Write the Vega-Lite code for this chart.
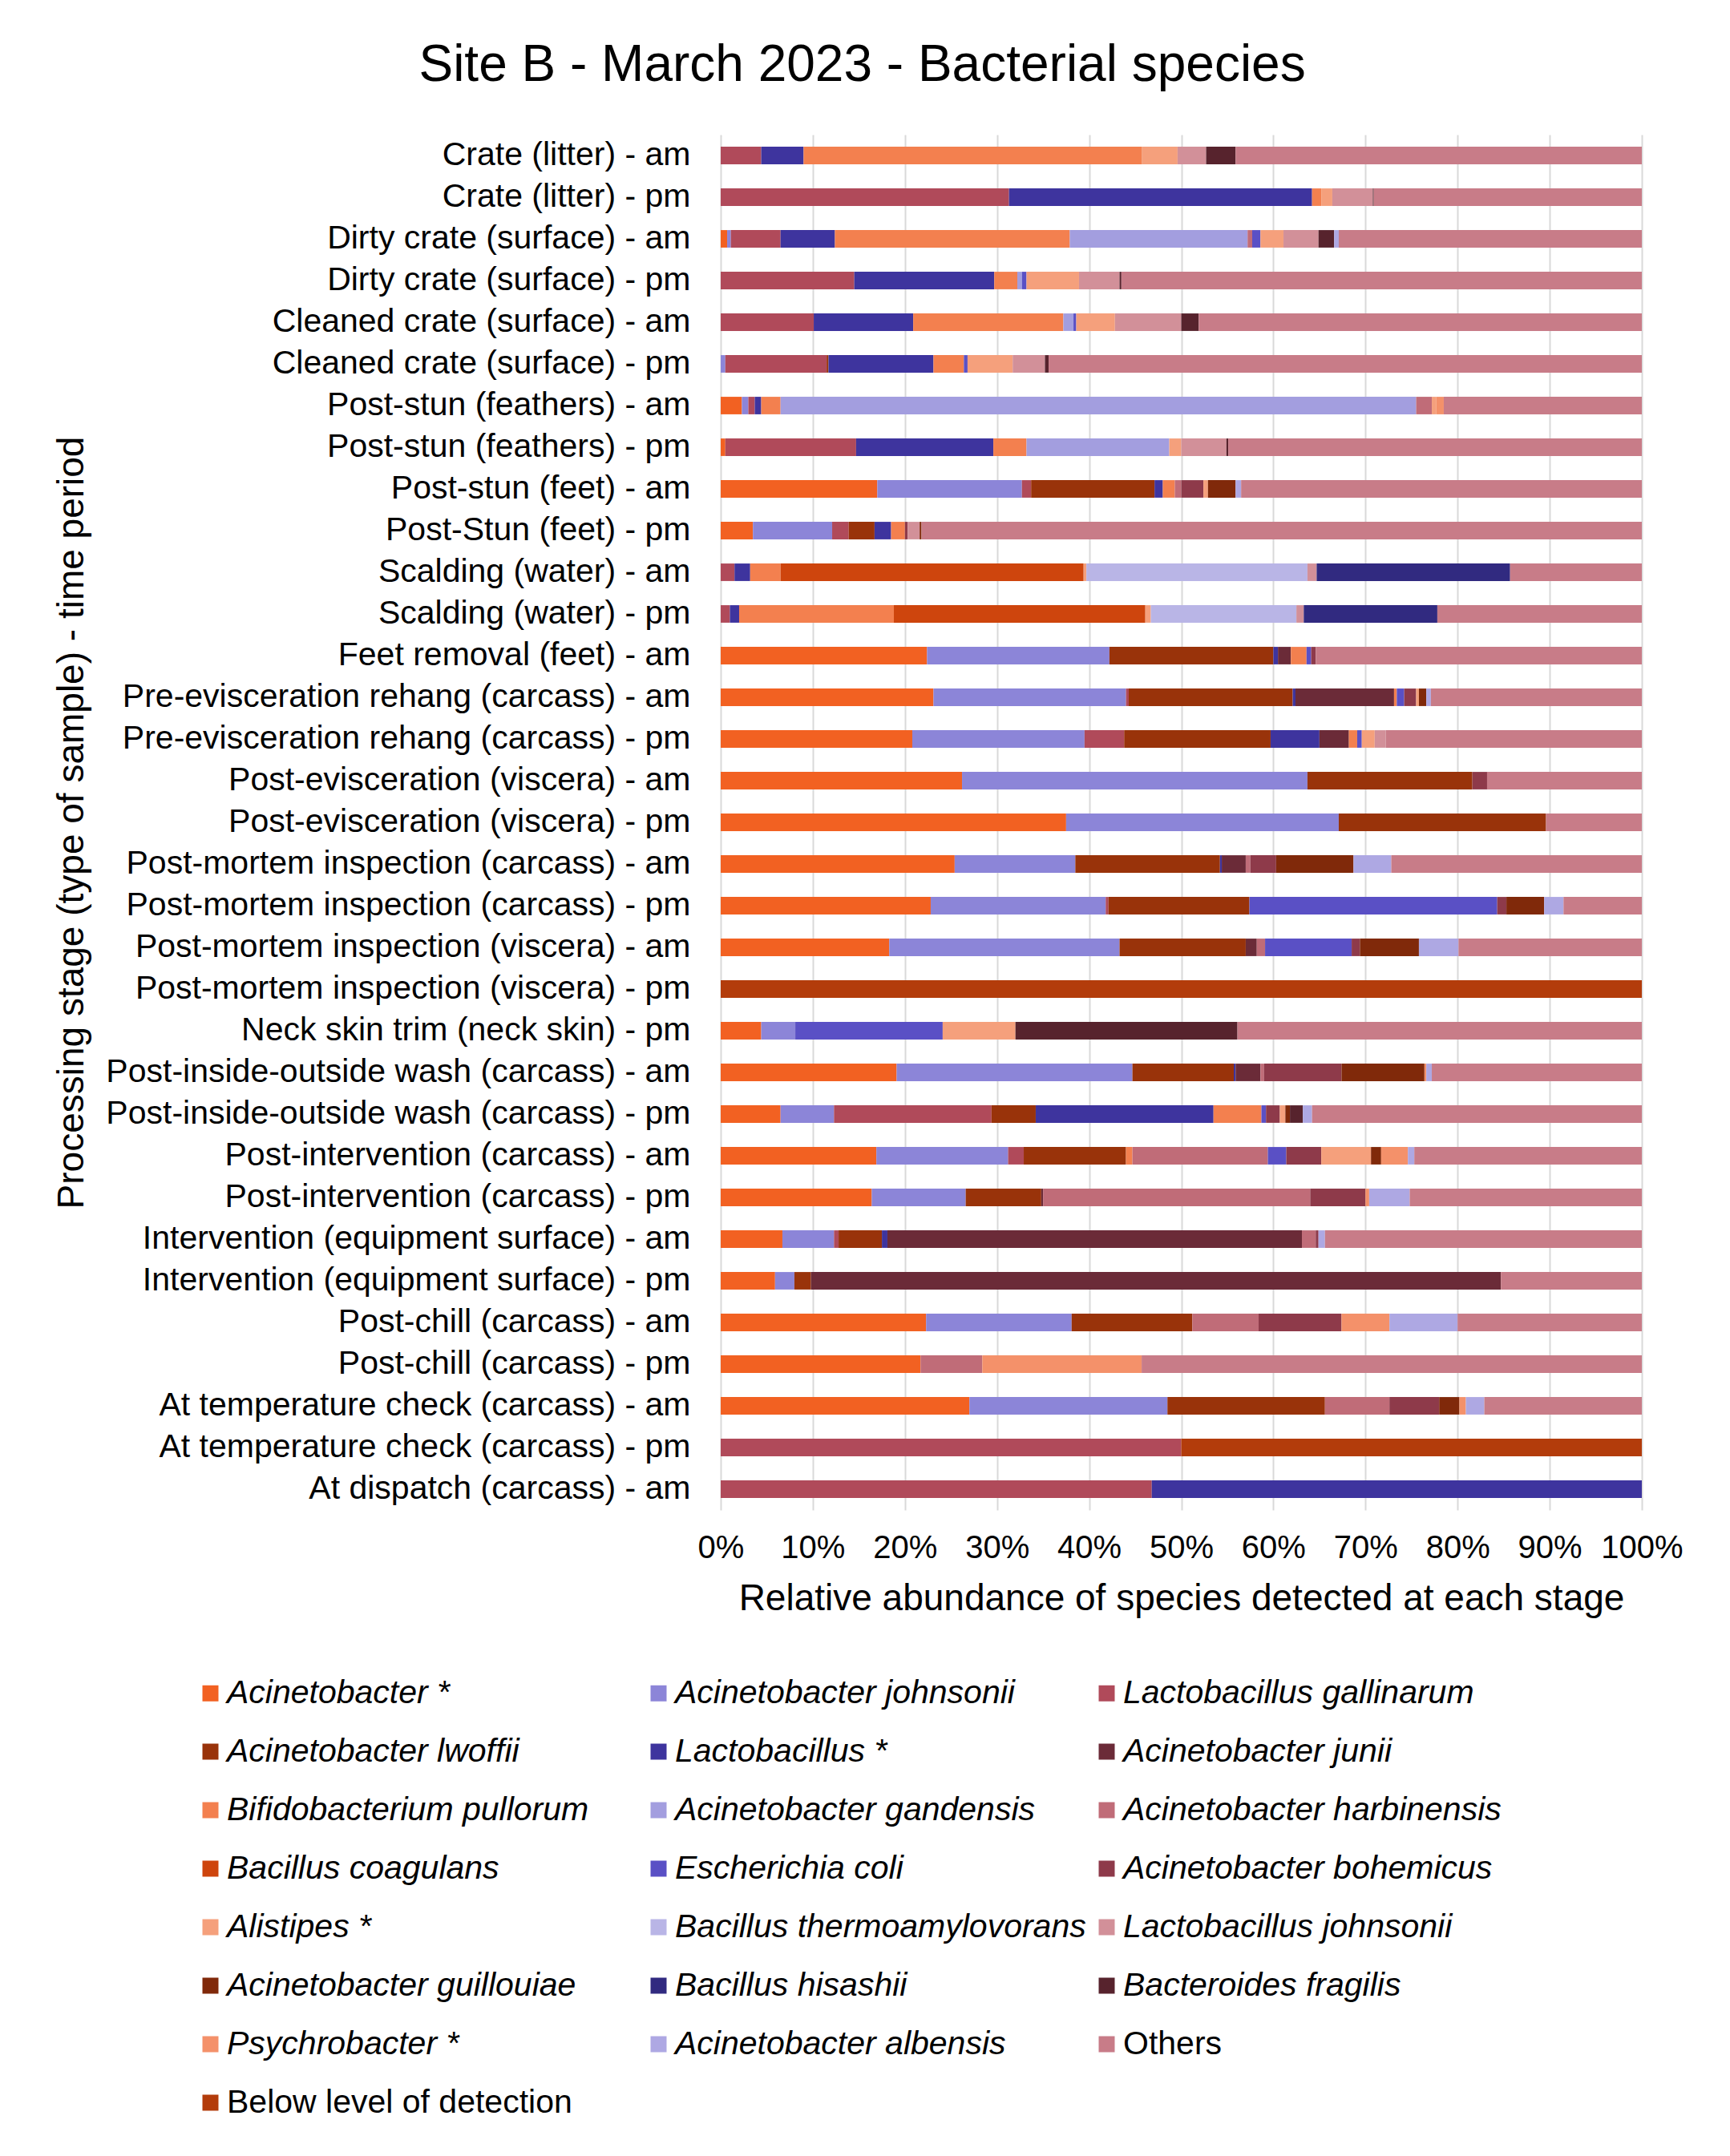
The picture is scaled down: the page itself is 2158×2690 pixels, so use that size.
{
  "$schema": "https://vega.github.io/schema/vega-lite/v6.json",
  "autosize": {"type": "none"},
  "padding": {"left": 899, "top": 168, "right": 110, "bottom": 806},
  "width": 1149,
  "height": 1716,
  "background": "white",
  "config": {
    "font": "Liberation Sans",
    "view": {"stroke": null}
  },
  "title": {
    "text": "Site B - March 2023 - Bacterial species",
    "fontSize": 64,
    "fontWeight": "normal",
    "color": "#000000",
    "font": "Liberation Sans",
    "anchor": "middle",
    "frame": "bounds",
    "dx": -7,
    "offset": 54
  },
  "datasets": {
    "rank": [
      {"sp": "Acinetobacter *", "r": 1},
      {"sp": "Acinetobacter johnsonii", "r": 2},
      {"sp": "Lactobacillus gallinarum", "r": 3},
      {"sp": "Acinetobacter lwoffii", "r": 4},
      {"sp": "Lactobacillus *", "r": 5},
      {"sp": "Acinetobacter junii", "r": 6},
      {"sp": "Bifidobacterium pullorum", "r": 7},
      {"sp": "Acinetobacter gandensis", "r": 8},
      {"sp": "Acinetobacter harbinensis", "r": 9},
      {"sp": "Bacillus coagulans", "r": 10},
      {"sp": "Escherichia coli", "r": 11},
      {"sp": "Acinetobacter bohemicus", "r": 12},
      {"sp": "Alistipes *", "r": 13},
      {"sp": "Bacillus thermoamylovorans", "r": 14},
      {"sp": "Lactobacillus johnsonii", "r": 15},
      {"sp": "Acinetobacter guillouiae", "r": 16},
      {"sp": "Bacillus hisashii", "r": 17},
      {"sp": "Bacteroides fragilis", "r": 18},
      {"sp": "Psychrobacter *", "r": 19},
      {"sp": "Acinetobacter albensis", "r": 20},
      {"sp": "Others", "r": 21},
      {"sp": "Below level of detection", "r": 22}
    ]
  },
  "data": {
    "values": [
      {"s": "Crate (litter) - am", "sp": "Lactobacillus gallinarum", "v": 4.4},
      {"s": "Crate (litter) - am", "sp": "Lactobacillus *", "v": 4.6},
      {"s": "Crate (litter) - am", "sp": "Bifidobacterium pullorum", "v": 36.7},
      {"s": "Crate (litter) - am", "sp": "Alistipes *", "v": 3.9},
      {"s": "Crate (litter) - am", "sp": "Lactobacillus johnsonii", "v": 3.1},
      {"s": "Crate (litter) - am", "sp": "Bacteroides fragilis", "v": 3.2},
      {"s": "Crate (litter) - am", "sp": "Others", "v": 44.1},

      {"s": "Crate (litter) - pm", "sp": "Lactobacillus gallinarum", "v": 31.3},
      {"s": "Crate (litter) - pm", "sp": "Lactobacillus *", "v": 32.9},
      {"s": "Crate (litter) - pm", "sp": "Bifidobacterium pullorum", "v": 1.0},
      {"s": "Crate (litter) - pm", "sp": "Alistipes *", "v": 1.2},
      {"s": "Crate (litter) - pm", "sp": "Lactobacillus johnsonii", "v": 4.4},
      {"s": "Crate (litter) - pm", "sp": "Bacteroides fragilis", "v": 0.1},
      {"s": "Crate (litter) - pm", "sp": "Others", "v": 29.1},

      {"s": "Dirty crate (surface) - am", "sp": "Acinetobacter *", "v": 0.7},
      {"s": "Dirty crate (surface) - am", "sp": "Acinetobacter johnsonii", "v": 0.4},
      {"s": "Dirty crate (surface) - am", "sp": "Lactobacillus gallinarum", "v": 5.4},
      {"s": "Dirty crate (surface) - am", "sp": "Lactobacillus *", "v": 5.9},
      {"s": "Dirty crate (surface) - am", "sp": "Bifidobacterium pullorum", "v": 25.5},
      {"s": "Dirty crate (surface) - am", "sp": "Acinetobacter gandensis", "v": 19.3},
      {"s": "Dirty crate (surface) - am", "sp": "Acinetobacter harbinensis", "v": 0.5},
      {"s": "Dirty crate (surface) - am", "sp": "Escherichia coli", "v": 0.9},
      {"s": "Dirty crate (surface) - am", "sp": "Alistipes *", "v": 2.5},
      {"s": "Dirty crate (surface) - am", "sp": "Lactobacillus johnsonii", "v": 3.8},
      {"s": "Dirty crate (surface) - am", "sp": "Bacteroides fragilis", "v": 1.7},
      {"s": "Dirty crate (surface) - am", "sp": "Acinetobacter albensis", "v": 0.5},
      {"s": "Dirty crate (surface) - am", "sp": "Others", "v": 32.9},

      {"s": "Dirty crate (surface) - pm", "sp": "Lactobacillus gallinarum", "v": 14.5},
      {"s": "Dirty crate (surface) - pm", "sp": "Lactobacillus *", "v": 15.2},
      {"s": "Dirty crate (surface) - pm", "sp": "Bifidobacterium pullorum", "v": 2.5},
      {"s": "Dirty crate (surface) - pm", "sp": "Acinetobacter gandensis", "v": 0.5},
      {"s": "Dirty crate (surface) - pm", "sp": "Escherichia coli", "v": 0.5},
      {"s": "Dirty crate (surface) - pm", "sp": "Alistipes *", "v": 5.7},
      {"s": "Dirty crate (surface) - pm", "sp": "Lactobacillus johnsonii", "v": 4.4},
      {"s": "Dirty crate (surface) - pm", "sp": "Bacteroides fragilis", "v": 0.2},
      {"s": "Dirty crate (surface) - pm", "sp": "Others", "v": 56.5},

      {"s": "Cleaned crate (surface) - am", "sp": "Lactobacillus gallinarum", "v": 10.1},
      {"s": "Cleaned crate (surface) - am", "sp": "Lactobacillus *", "v": 10.8},
      {"s": "Cleaned crate (surface) - am", "sp": "Bifidobacterium pullorum", "v": 16.3},
      {"s": "Cleaned crate (surface) - am", "sp": "Acinetobacter gandensis", "v": 1.1},
      {"s": "Cleaned crate (surface) - am", "sp": "Escherichia coli", "v": 0.3},
      {"s": "Cleaned crate (surface) - am", "sp": "Alistipes *", "v": 4.2},
      {"s": "Cleaned crate (surface) - am", "sp": "Lactobacillus johnsonii", "v": 7.2},
      {"s": "Cleaned crate (surface) - am", "sp": "Bacteroides fragilis", "v": 1.9},
      {"s": "Cleaned crate (surface) - am", "sp": "Others", "v": 48.1},

      {"s": "Cleaned crate (surface) - pm", "sp": "Acinetobacter johnsonii", "v": 0.5},
      {"s": "Cleaned crate (surface) - pm", "sp": "Lactobacillus gallinarum", "v": 11.0},
      {"s": "Cleaned crate (surface) - pm", "sp": "Acinetobacter lwoffii", "v": 0.2},
      {"s": "Cleaned crate (surface) - pm", "sp": "Lactobacillus *", "v": 11.4},
      {"s": "Cleaned crate (surface) - pm", "sp": "Bifidobacterium pullorum", "v": 3.3},
      {"s": "Cleaned crate (surface) - pm", "sp": "Escherichia coli", "v": 0.4},
      {"s": "Cleaned crate (surface) - pm", "sp": "Alistipes *", "v": 4.9},
      {"s": "Cleaned crate (surface) - pm", "sp": "Lactobacillus johnsonii", "v": 3.5},
      {"s": "Cleaned crate (surface) - pm", "sp": "Bacteroides fragilis", "v": 0.4},
      {"s": "Cleaned crate (surface) - pm", "sp": "Others", "v": 64.4},

      {"s": "Post-stun (feathers) - am", "sp": "Acinetobacter *", "v": 2.3},
      {"s": "Post-stun (feathers) - am", "sp": "Acinetobacter johnsonii", "v": 0.7},
      {"s": "Post-stun (feathers) - am", "sp": "Lactobacillus gallinarum", "v": 0.7},
      {"s": "Post-stun (feathers) - am", "sp": "Lactobacillus *", "v": 0.7},
      {"s": "Post-stun (feathers) - am", "sp": "Bifidobacterium pullorum", "v": 2.1},
      {"s": "Post-stun (feathers) - am", "sp": "Acinetobacter gandensis", "v": 69.0},
      {"s": "Post-stun (feathers) - am", "sp": "Acinetobacter harbinensis", "v": 1.7},
      {"s": "Post-stun (feathers) - am", "sp": "Alistipes *", "v": 0.5},
      {"s": "Post-stun (feathers) - am", "sp": "Psychrobacter *", "v": 0.8},
      {"s": "Post-stun (feathers) - am", "sp": "Others", "v": 21.5},

      {"s": "Post-stun (feathers) - pm", "sp": "Acinetobacter *", "v": 0.5},
      {"s": "Post-stun (feathers) - pm", "sp": "Lactobacillus gallinarum", "v": 14.2},
      {"s": "Post-stun (feathers) - pm", "sp": "Lactobacillus *", "v": 14.9},
      {"s": "Post-stun (feathers) - pm", "sp": "Bifidobacterium pullorum", "v": 3.6},
      {"s": "Post-stun (feathers) - pm", "sp": "Acinetobacter gandensis", "v": 15.5},
      {"s": "Post-stun (feathers) - pm", "sp": "Alistipes *", "v": 1.3},
      {"s": "Post-stun (feathers) - pm", "sp": "Lactobacillus johnsonii", "v": 4.9},
      {"s": "Post-stun (feathers) - pm", "sp": "Bacteroides fragilis", "v": 0.2},
      {"s": "Post-stun (feathers) - pm", "sp": "Others", "v": 44.9},

      {"s": "Post-stun (feet) - am", "sp": "Acinetobacter *", "v": 17.0},
      {"s": "Post-stun (feet) - am", "sp": "Acinetobacter johnsonii", "v": 15.7},
      {"s": "Post-stun (feet) - am", "sp": "Lactobacillus gallinarum", "v": 1.0},
      {"s": "Post-stun (feet) - am", "sp": "Acinetobacter lwoffii", "v": 13.4},
      {"s": "Post-stun (feet) - am", "sp": "Lactobacillus *", "v": 0.9},
      {"s": "Post-stun (feet) - am", "sp": "Bifidobacterium pullorum", "v": 1.3},
      {"s": "Post-stun (feet) - am", "sp": "Acinetobacter harbinensis", "v": 0.7},
      {"s": "Post-stun (feet) - am", "sp": "Acinetobacter bohemicus", "v": 2.4},
      {"s": "Post-stun (feet) - am", "sp": "Alistipes *", "v": 0.5},
      {"s": "Post-stun (feet) - am", "sp": "Acinetobacter guillouiae", "v": 3.0},
      {"s": "Post-stun (feet) - am", "sp": "Acinetobacter albensis", "v": 0.6},
      {"s": "Post-stun (feet) - am", "sp": "Others", "v": 43.5},

      {"s": "Post-Stun (feet) - pm", "sp": "Acinetobacter *", "v": 3.5},
      {"s": "Post-Stun (feet) - pm", "sp": "Acinetobacter johnsonii", "v": 8.6},
      {"s": "Post-Stun (feet) - pm", "sp": "Lactobacillus gallinarum", "v": 1.8},
      {"s": "Post-Stun (feet) - pm", "sp": "Acinetobacter lwoffii", "v": 2.8},
      {"s": "Post-Stun (feet) - pm", "sp": "Lactobacillus *", "v": 1.8},
      {"s": "Post-Stun (feet) - pm", "sp": "Bifidobacterium pullorum", "v": 1.5},
      {"s": "Post-Stun (feet) - pm", "sp": "Acinetobacter bohemicus", "v": 0.3},
      {"s": "Post-Stun (feet) - pm", "sp": "Lactobacillus johnsonii", "v": 1.3},
      {"s": "Post-Stun (feet) - pm", "sp": "Acinetobacter guillouiae", "v": 0.2},
      {"s": "Post-Stun (feet) - pm", "sp": "Others", "v": 78.2},

      {"s": "Scalding (water) - am", "sp": "Lactobacillus gallinarum", "v": 1.5},
      {"s": "Scalding (water) - am", "sp": "Lactobacillus *", "v": 1.7},
      {"s": "Scalding (water) - am", "sp": "Bifidobacterium pullorum", "v": 3.3},
      {"s": "Scalding (water) - am", "sp": "Bacillus coagulans", "v": 32.9},
      {"s": "Scalding (water) - am", "sp": "Alistipes *", "v": 0.3},
      {"s": "Scalding (water) - am", "sp": "Bacillus thermoamylovorans", "v": 24.0},
      {"s": "Scalding (water) - am", "sp": "Lactobacillus johnsonii", "v": 1.0},
      {"s": "Scalding (water) - am", "sp": "Bacillus hisashii", "v": 21.0},
      {"s": "Scalding (water) - am", "sp": "Others", "v": 14.3},

      {"s": "Scalding (water) - pm", "sp": "Lactobacillus gallinarum", "v": 1.0},
      {"s": "Scalding (water) - pm", "sp": "Lactobacillus *", "v": 1.0},
      {"s": "Scalding (water) - pm", "sp": "Bifidobacterium pullorum", "v": 16.8},
      {"s": "Scalding (water) - pm", "sp": "Bacillus coagulans", "v": 27.3},
      {"s": "Scalding (water) - pm", "sp": "Alistipes *", "v": 0.6},
      {"s": "Scalding (water) - pm", "sp": "Bacillus thermoamylovorans", "v": 15.8},
      {"s": "Scalding (water) - pm", "sp": "Lactobacillus johnsonii", "v": 0.8},
      {"s": "Scalding (water) - pm", "sp": "Bacillus hisashii", "v": 14.5},
      {"s": "Scalding (water) - pm", "sp": "Others", "v": 22.2},

      {"s": "Feet removal (feet) - am", "sp": "Acinetobacter *", "v": 22.4},
      {"s": "Feet removal (feet) - am", "sp": "Acinetobacter johnsonii", "v": 19.8},
      {"s": "Feet removal (feet) - am", "sp": "Acinetobacter lwoffii", "v": 17.8},
      {"s": "Feet removal (feet) - am", "sp": "Lactobacillus *", "v": 0.5},
      {"s": "Feet removal (feet) - am", "sp": "Acinetobacter junii", "v": 1.4},
      {"s": "Feet removal (feet) - am", "sp": "Bifidobacterium pullorum", "v": 1.7},
      {"s": "Feet removal (feet) - am", "sp": "Escherichia coli", "v": 0.5},
      {"s": "Feet removal (feet) - am", "sp": "Acinetobacter bohemicus", "v": 0.5},
      {"s": "Feet removal (feet) - am", "sp": "Others", "v": 35.4},

      {"s": "Pre-evisceration rehang (carcass) - am", "sp": "Acinetobacter *", "v": 23.1},
      {"s": "Pre-evisceration rehang (carcass) - am", "sp": "Acinetobacter johnsonii", "v": 20.9},
      {"s": "Pre-evisceration rehang (carcass) - am", "sp": "Lactobacillus gallinarum", "v": 0.3},
      {"s": "Pre-evisceration rehang (carcass) - am", "sp": "Acinetobacter lwoffii", "v": 17.8},
      {"s": "Pre-evisceration rehang (carcass) - am", "sp": "Lactobacillus *", "v": 0.3},
      {"s": "Pre-evisceration rehang (carcass) - am", "sp": "Acinetobacter junii", "v": 10.7},
      {"s": "Pre-evisceration rehang (carcass) - am", "sp": "Bifidobacterium pullorum", "v": 0.3},
      {"s": "Pre-evisceration rehang (carcass) - am", "sp": "Escherichia coli", "v": 0.8},
      {"s": "Pre-evisceration rehang (carcass) - am", "sp": "Acinetobacter bohemicus", "v": 1.3},
      {"s": "Pre-evisceration rehang (carcass) - am", "sp": "Alistipes *", "v": 0.3},
      {"s": "Pre-evisceration rehang (carcass) - am", "sp": "Acinetobacter guillouiae", "v": 0.8},
      {"s": "Pre-evisceration rehang (carcass) - am", "sp": "Acinetobacter albensis", "v": 0.5},
      {"s": "Pre-evisceration rehang (carcass) - am", "sp": "Others", "v": 22.9},

      {"s": "Pre-evisceration rehang (carcass) - pm", "sp": "Acinetobacter *", "v": 20.8},
      {"s": "Pre-evisceration rehang (carcass) - pm", "sp": "Acinetobacter johnsonii", "v": 18.7},
      {"s": "Pre-evisceration rehang (carcass) - pm", "sp": "Lactobacillus gallinarum", "v": 4.3},
      {"s": "Pre-evisceration rehang (carcass) - pm", "sp": "Acinetobacter lwoffii", "v": 15.9},
      {"s": "Pre-evisceration rehang (carcass) - pm", "sp": "Lactobacillus *", "v": 5.3},
      {"s": "Pre-evisceration rehang (carcass) - pm", "sp": "Acinetobacter junii", "v": 3.2},
      {"s": "Pre-evisceration rehang (carcass) - pm", "sp": "Bifidobacterium pullorum", "v": 0.9},
      {"s": "Pre-evisceration rehang (carcass) - pm", "sp": "Escherichia coli", "v": 0.5},
      {"s": "Pre-evisceration rehang (carcass) - pm", "sp": "Alistipes *", "v": 1.4},
      {"s": "Pre-evisceration rehang (carcass) - pm", "sp": "Lactobacillus johnsonii", "v": 1.2},
      {"s": "Pre-evisceration rehang (carcass) - pm", "sp": "Others", "v": 27.8},

      {"s": "Post-evisceration (viscera) - am", "sp": "Acinetobacter *", "v": 26.2},
      {"s": "Post-evisceration (viscera) - am", "sp": "Acinetobacter johnsonii", "v": 37.5},
      {"s": "Post-evisceration (viscera) - am", "sp": "Acinetobacter lwoffii", "v": 17.9},
      {"s": "Post-evisceration (viscera) - am", "sp": "Acinetobacter bohemicus", "v": 1.6},
      {"s": "Post-evisceration (viscera) - am", "sp": "Others", "v": 16.8},

      {"s": "Post-evisceration (viscera) - pm", "sp": "Acinetobacter *", "v": 37.5},
      {"s": "Post-evisceration (viscera) - pm", "sp": "Acinetobacter johnsonii", "v": 29.6},
      {"s": "Post-evisceration (viscera) - pm", "sp": "Acinetobacter lwoffii", "v": 22.5},
      {"s": "Post-evisceration (viscera) - pm", "sp": "Others", "v": 10.4},

      {"s": "Post-mortem inspection (carcass) - am", "sp": "Acinetobacter *", "v": 25.4},
      {"s": "Post-mortem inspection (carcass) - am", "sp": "Acinetobacter johnsonii", "v": 13.1},
      {"s": "Post-mortem inspection (carcass) - am", "sp": "Acinetobacter lwoffii", "v": 15.7},
      {"s": "Post-mortem inspection (carcass) - am", "sp": "Lactobacillus *", "v": 0.2},
      {"s": "Post-mortem inspection (carcass) - am", "sp": "Acinetobacter junii", "v": 2.6},
      {"s": "Post-mortem inspection (carcass) - am", "sp": "Acinetobacter harbinensis", "v": 0.5},
      {"s": "Post-mortem inspection (carcass) - am", "sp": "Acinetobacter bohemicus", "v": 2.8},
      {"s": "Post-mortem inspection (carcass) - am", "sp": "Acinetobacter guillouiae", "v": 8.4},
      {"s": "Post-mortem inspection (carcass) - am", "sp": "Acinetobacter albensis", "v": 4.1},
      {"s": "Post-mortem inspection (carcass) - am", "sp": "Others", "v": 27.2},

      {"s": "Post-mortem inspection (carcass) - pm", "sp": "Acinetobacter *", "v": 22.8},
      {"s": "Post-mortem inspection (carcass) - pm", "sp": "Acinetobacter johnsonii", "v": 19.0},
      {"s": "Post-mortem inspection (carcass) - pm", "sp": "Lactobacillus gallinarum", "v": 0.3},
      {"s": "Post-mortem inspection (carcass) - pm", "sp": "Acinetobacter lwoffii", "v": 15.3},
      {"s": "Post-mortem inspection (carcass) - pm", "sp": "Escherichia coli", "v": 26.9},
      {"s": "Post-mortem inspection (carcass) - pm", "sp": "Acinetobacter bohemicus", "v": 1.0},
      {"s": "Post-mortem inspection (carcass) - pm", "sp": "Acinetobacter guillouiae", "v": 4.1},
      {"s": "Post-mortem inspection (carcass) - pm", "sp": "Acinetobacter albensis", "v": 2.1},
      {"s": "Post-mortem inspection (carcass) - pm", "sp": "Others", "v": 8.5},

      {"s": "Post-mortem inspection (viscera) - am", "sp": "Acinetobacter *", "v": 18.3},
      {"s": "Post-mortem inspection (viscera) - am", "sp": "Acinetobacter johnsonii", "v": 25.0},
      {"s": "Post-mortem inspection (viscera) - am", "sp": "Acinetobacter lwoffii", "v": 13.7},
      {"s": "Post-mortem inspection (viscera) - am", "sp": "Acinetobacter junii", "v": 1.2},
      {"s": "Post-mortem inspection (viscera) - am", "sp": "Acinetobacter harbinensis", "v": 0.9},
      {"s": "Post-mortem inspection (viscera) - am", "sp": "Escherichia coli", "v": 9.4},
      {"s": "Post-mortem inspection (viscera) - am", "sp": "Acinetobacter bohemicus", "v": 0.9},
      {"s": "Post-mortem inspection (viscera) - am", "sp": "Acinetobacter guillouiae", "v": 6.4},
      {"s": "Post-mortem inspection (viscera) - am", "sp": "Acinetobacter albensis", "v": 4.3},
      {"s": "Post-mortem inspection (viscera) - am", "sp": "Others", "v": 19.9},

      {"s": "Post-mortem inspection (viscera) - pm", "sp": "Below level of detection", "v": 100},

      {"s": "Neck skin trim (neck skin) - pm", "sp": "Acinetobacter *", "v": 4.4},
      {"s": "Neck skin trim (neck skin) - pm", "sp": "Acinetobacter johnsonii", "v": 3.7},
      {"s": "Neck skin trim (neck skin) - pm", "sp": "Escherichia coli", "v": 16.0},
      {"s": "Neck skin trim (neck skin) - pm", "sp": "Alistipes *", "v": 7.9},
      {"s": "Neck skin trim (neck skin) - pm", "sp": "Bacteroides fragilis", "v": 24.1},
      {"s": "Neck skin trim (neck skin) - pm", "sp": "Others", "v": 43.9},

      {"s": "Post-inside-outside wash (carcass) - am", "sp": "Acinetobacter *", "v": 19.1},
      {"s": "Post-inside-outside wash (carcass) - am", "sp": "Acinetobacter johnsonii", "v": 25.6},
      {"s": "Post-inside-outside wash (carcass) - am", "sp": "Acinetobacter lwoffii", "v": 11.0},
      {"s": "Post-inside-outside wash (carcass) - am", "sp": "Lactobacillus *", "v": 0.2},
      {"s": "Post-inside-outside wash (carcass) - am", "sp": "Acinetobacter junii", "v": 2.7},
      {"s": "Post-inside-outside wash (carcass) - am", "sp": "Acinetobacter harbinensis", "v": 0.4},
      {"s": "Post-inside-outside wash (carcass) - am", "sp": "Acinetobacter bohemicus", "v": 8.4},
      {"s": "Post-inside-outside wash (carcass) - am", "sp": "Acinetobacter guillouiae", "v": 9.0},
      {"s": "Post-inside-outside wash (carcass) - am", "sp": "Psychrobacter *", "v": 0.2},
      {"s": "Post-inside-outside wash (carcass) - am", "sp": "Acinetobacter albensis", "v": 0.6},
      {"s": "Post-inside-outside wash (carcass) - am", "sp": "Others", "v": 22.8},

      {"s": "Post-inside-outside wash (carcass) - pm", "sp": "Acinetobacter *", "v": 6.5},
      {"s": "Post-inside-outside wash (carcass) - pm", "sp": "Acinetobacter johnsonii", "v": 5.8},
      {"s": "Post-inside-outside wash (carcass) - pm", "sp": "Lactobacillus gallinarum", "v": 17.1},
      {"s": "Post-inside-outside wash (carcass) - pm", "sp": "Acinetobacter lwoffii", "v": 4.8},
      {"s": "Post-inside-outside wash (carcass) - pm", "sp": "Lactobacillus *", "v": 19.3},
      {"s": "Post-inside-outside wash (carcass) - pm", "sp": "Bifidobacterium pullorum", "v": 5.2},
      {"s": "Post-inside-outside wash (carcass) - pm", "sp": "Escherichia coli", "v": 0.5},
      {"s": "Post-inside-outside wash (carcass) - pm", "sp": "Acinetobacter bohemicus", "v": 1.5},
      {"s": "Post-inside-outside wash (carcass) - pm", "sp": "Alistipes *", "v": 0.6},
      {"s": "Post-inside-outside wash (carcass) - pm", "sp": "Acinetobacter guillouiae", "v": 0.5},
      {"s": "Post-inside-outside wash (carcass) - pm", "sp": "Bacteroides fragilis", "v": 1.4},
      {"s": "Post-inside-outside wash (carcass) - pm", "sp": "Acinetobacter albensis", "v": 1.0},
      {"s": "Post-inside-outside wash (carcass) - pm", "sp": "Others", "v": 35.8},

      {"s": "Post-intervention (carcass) - am", "sp": "Acinetobacter *", "v": 16.9},
      {"s": "Post-intervention (carcass) - am", "sp": "Acinetobacter johnsonii", "v": 14.3},
      {"s": "Post-intervention (carcass) - am", "sp": "Lactobacillus gallinarum", "v": 1.7},
      {"s": "Post-intervention (carcass) - am", "sp": "Acinetobacter lwoffii", "v": 11.1},
      {"s": "Post-intervention (carcass) - am", "sp": "Bifidobacterium pullorum", "v": 0.7},
      {"s": "Post-intervention (carcass) - am", "sp": "Acinetobacter harbinensis", "v": 14.7},
      {"s": "Post-intervention (carcass) - am", "sp": "Escherichia coli", "v": 2.0},
      {"s": "Post-intervention (carcass) - am", "sp": "Acinetobacter bohemicus", "v": 3.8},
      {"s": "Post-intervention (carcass) - am", "sp": "Alistipes *", "v": 5.4},
      {"s": "Post-intervention (carcass) - am", "sp": "Acinetobacter guillouiae", "v": 1.1},
      {"s": "Post-intervention (carcass) - am", "sp": "Psychrobacter *", "v": 2.9},
      {"s": "Post-intervention (carcass) - am", "sp": "Acinetobacter albensis", "v": 0.7},
      {"s": "Post-intervention (carcass) - am", "sp": "Others", "v": 24.7},

      {"s": "Post-intervention (carcass) - pm", "sp": "Acinetobacter *", "v": 16.4},
      {"s": "Post-intervention (carcass) - pm", "sp": "Acinetobacter johnsonii", "v": 10.2},
      {"s": "Post-intervention (carcass) - pm", "sp": "Acinetobacter lwoffii", "v": 8.2},
      {"s": "Post-intervention (carcass) - pm", "sp": "Acinetobacter junii", "v": 0.2},
      {"s": "Post-intervention (carcass) - pm", "sp": "Acinetobacter harbinensis", "v": 29.0},
      {"s": "Post-intervention (carcass) - pm", "sp": "Acinetobacter bohemicus", "v": 6.0},
      {"s": "Post-intervention (carcass) - pm", "sp": "Psychrobacter *", "v": 0.4},
      {"s": "Post-intervention (carcass) - pm", "sp": "Acinetobacter albensis", "v": 4.4},
      {"s": "Post-intervention (carcass) - pm", "sp": "Others", "v": 25.2},

      {"s": "Intervention (equipment surface) - am", "sp": "Acinetobacter *", "v": 6.7},
      {"s": "Intervention (equipment surface) - am", "sp": "Acinetobacter johnsonii", "v": 5.6},
      {"s": "Intervention (equipment surface) - am", "sp": "Lactobacillus gallinarum", "v": 0.5},
      {"s": "Intervention (equipment surface) - am", "sp": "Acinetobacter lwoffii", "v": 4.7},
      {"s": "Intervention (equipment surface) - am", "sp": "Lactobacillus *", "v": 0.6},
      {"s": "Intervention (equipment surface) - am", "sp": "Acinetobacter junii", "v": 45.0},
      {"s": "Intervention (equipment surface) - am", "sp": "Acinetobacter harbinensis", "v": 1.5},
      {"s": "Intervention (equipment surface) - am", "sp": "Acinetobacter bohemicus", "v": 0.3},
      {"s": "Intervention (equipment surface) - am", "sp": "Acinetobacter albensis", "v": 0.7},
      {"s": "Intervention (equipment surface) - am", "sp": "Others", "v": 34.4},

      {"s": "Intervention (equipment surface) - pm", "sp": "Acinetobacter *", "v": 5.9},
      {"s": "Intervention (equipment surface) - pm", "sp": "Acinetobacter johnsonii", "v": 2.1},
      {"s": "Intervention (equipment surface) - pm", "sp": "Acinetobacter lwoffii", "v": 1.8},
      {"s": "Intervention (equipment surface) - pm", "sp": "Acinetobacter junii", "v": 74.9},
      {"s": "Intervention (equipment surface) - pm", "sp": "Others", "v": 15.3},

      {"s": "Post-chill (carcass) - am", "sp": "Acinetobacter *", "v": 22.3},
      {"s": "Post-chill (carcass) - am", "sp": "Acinetobacter johnsonii", "v": 15.8},
      {"s": "Post-chill (carcass) - am", "sp": "Acinetobacter lwoffii", "v": 13.1},
      {"s": "Post-chill (carcass) - am", "sp": "Acinetobacter harbinensis", "v": 7.2},
      {"s": "Post-chill (carcass) - am", "sp": "Acinetobacter bohemicus", "v": 9.0},
      {"s": "Post-chill (carcass) - am", "sp": "Psychrobacter *", "v": 5.2},
      {"s": "Post-chill (carcass) - am", "sp": "Acinetobacter albensis", "v": 7.4},
      {"s": "Post-chill (carcass) - am", "sp": "Others", "v": 20.0},

      {"s": "Post-chill (carcass) - pm", "sp": "Acinetobacter *", "v": 21.7},
      {"s": "Post-chill (carcass) - pm", "sp": "Acinetobacter harbinensis", "v": 6.7},
      {"s": "Post-chill (carcass) - pm", "sp": "Psychrobacter *", "v": 17.3},
      {"s": "Post-chill (carcass) - pm", "sp": "Others", "v": 54.3},

      {"s": "At temperature check (carcass) - am", "sp": "Acinetobacter *", "v": 27.0},
      {"s": "At temperature check (carcass) - am", "sp": "Acinetobacter johnsonii", "v": 21.5},
      {"s": "At temperature check (carcass) - am", "sp": "Acinetobacter lwoffii", "v": 17.1},
      {"s": "At temperature check (carcass) - am", "sp": "Acinetobacter harbinensis", "v": 7.0},
      {"s": "At temperature check (carcass) - am", "sp": "Acinetobacter bohemicus", "v": 5.4},
      {"s": "At temperature check (carcass) - am", "sp": "Acinetobacter guillouiae", "v": 2.2},
      {"s": "At temperature check (carcass) - am", "sp": "Psychrobacter *", "v": 0.7},
      {"s": "At temperature check (carcass) - am", "sp": "Acinetobacter albensis", "v": 2.0},
      {"s": "At temperature check (carcass) - am", "sp": "Others", "v": 17.1},

      {"s": "At temperature check (carcass) - pm", "sp": "Lactobacillus gallinarum", "v": 50.0},
      {"s": "At temperature check (carcass) - pm", "sp": "Below level of detection", "v": 50.0},

      {"s": "At dispatch (carcass) - am", "sp": "Lactobacillus gallinarum", "v": 46.8},
      {"s": "At dispatch (carcass) - am", "sp": "Lactobacillus *", "v": 53.2}
    ]
  },
  "transform": [
    {"lookup": "sp", "from": {"data": {"name": "rank"}, "key": "sp", "fields": ["r"]}}
  ],
  "mark": {"type": "bar"},
  "encoding": {
    "y": {
      "field": "s",
      "type": "nominal",
      "sort": null,
      "scale": {"paddingInner": 0.58, "paddingOuter": 0.29},
      "axis": {
        "title": "Processing stage (type of sample) - time period",
        "titleFontSize": 46,
        "titleFontWeight": "normal",
        "titleColor": "#000000",
        "titleFont": "Liberation Sans",
        "titleX": -810,
        "titleBaseline": "middle",
        "labelFontSize": 41,
        "labelColor": "#000000",
        "labelFont": "Liberation Sans",
        "labelLimit": 1000,
        "labelPadding": 38,
        "ticks": false,
        "tickSize": 0,
        "domain": false,
        "grid": false
      }
    },
    "x": {
      "field": "v",
      "type": "quantitative",
      "stack": "normalize",
      "scale": {"domain": [0, 1], "nice": false},
      "axis": {
        "title": "Relative abundance of species detected at each stage",
        "titleFontSize": 46,
        "titleFontWeight": "normal",
        "titleColor": "#000000",
        "titleFont": "Liberation Sans",
        "titlePadding": 21,
        "labelFontSize": 40,
        "labelColor": "#000000",
        "labelFont": "Liberation Sans",
        "labelPadding": 27,
        "labelOverlap": false,
        "labelFlush": false,
        "format": ".0%",
        "values": [0, 0.1, 0.2, 0.3, 0.4, 0.5, 0.6, 0.7, 0.8, 0.9, 1],
        "ticks": false,
        "tickSize": 0,
        "domain": false,
        "grid": true,
        "gridColor": "#D9D9D9",
        "gridWidth": 2
      }
    },
    "order": {"field": "r", "type": "quantitative", "sort": "ascending"},
    "color": {
      "field": "sp",
      "type": "nominal",
      "scale": {
        "domain": ["Acinetobacter *", "Acinetobacter johnsonii", "Lactobacillus gallinarum", "Acinetobacter lwoffii", "Lactobacillus *", "Acinetobacter junii", "Bifidobacterium pullorum", "Acinetobacter gandensis", "Acinetobacter harbinensis", "Bacillus coagulans", "Escherichia coli", "Acinetobacter bohemicus", "Alistipes *", "Bacillus thermoamylovorans", "Lactobacillus johnsonii", "Acinetobacter guillouiae", "Bacillus hisashii", "Bacteroides fragilis", "Psychrobacter *", "Acinetobacter albensis", "Others", "Below level of detection"],
        "range": ["#F26122", "#8C85D8", "#B04A5A", "#99330A", "#3E349E", "#6B2B38", "#F3804F", "#A39EDF", "#C06C78", "#CE450D", "#5A50C5", "#8E3A4A", "#F5A07C", "#B9B5E6", "#D29099", "#80290A", "#312A80", "#57232D", "#F4916A", "#AEA8E3", "#C87C88", "#B33C0B"]
      },
      "legend": {
        "title": null,
        "orient": "none",
        "legendX": -657,
        "legendY": 1924,
        "direction": "horizontal",
        "columns": 3,
        "gridAlign": "all",
        "columnPadding": 5,
        "rowPadding": 31,
        "symbolType": "square",
        "symbolSize": 400,
        "symbolStrokeWidth": 0,
        "labelOffset": 0,
        "labelFontSize": 41,
        "labelFont": "Liberation Sans",
        "labelColor": "#000000",
        "labelLimit": 1000,
        "labelFontStyle": {"expr": "indexof(['Others', 'Below level of detection'], datum.label) >= 0 ? 'normal' : 'italic'"}
      }
    }
  }
}
